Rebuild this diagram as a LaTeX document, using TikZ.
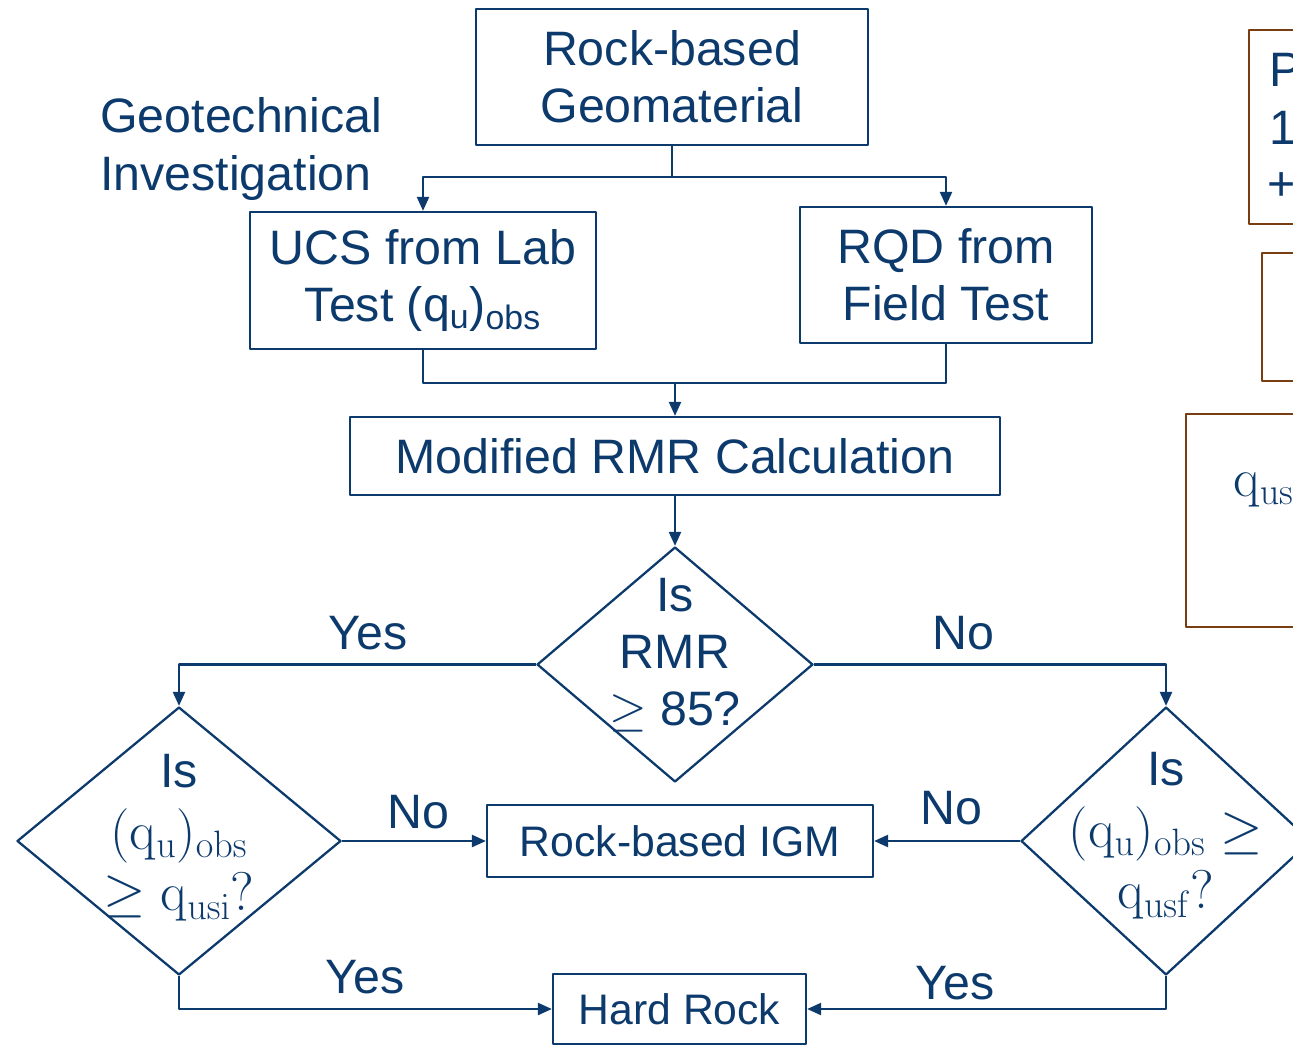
\RequirePackage{fix-cm}
\documentclass[tikz,border=0pt]{standalone}
\usepackage[no-math]{fontspec}
\setmainfont{Liberation Sans}
\usepackage{tikz}
\usetikzlibrary{arrows.meta,shapes.geometric}
\definecolor{navy}{RGB}{12,58,108}
\definecolor{rust}{RGB}{120,62,18}
\newcommand{\bigtxt}{\fontsize{27.5}{32.5}\selectfont}
\newcommand{\midtxt}{\fontsize{24.3}{29}\selectfont}
\newcommand{\mathtxt}{\fontsize{31}{35}\selectfont}
\tikzset{
  every picture/.style={line join=round, >={Triangle[length=0.28cm,width=0.24cm]}},
  box/.style={draw=navy, line width=1.3pt, text=navy, rectangle, inner sep=0pt, align=center, font=\bigtxt},
  decision/.style={draw=navy, line width=1.3pt, diamond, inner sep=0pt},
  dtext/.style={text=navy, align=center, font=\mathtxt},
  lbl/.style={text=navy, font=\bigtxt},
  link/.style={draw=navy, line width=1.3pt},
  side/.style={draw=rust, line width=1.3pt},
}

\begin{document}
\begin{tikzpicture}[x=0.02cm,y=-0.02cm]
\useasboundingbox (0,0) rectangle (1293,1045);
\clip (0,0) rectangle (1293,1045);
\node[box, minimum width=7.84cm, minimum height=2.72cm] (geo) at (672,77) {Rock-based\\Geomaterial};
\node[lbl, align=left, anchor=west, inner sep=0pt] (inv) at (100,149) {Geotechnical\\Investigation};
\node[box, minimum width=6.92cm, minimum height=2.74cm] (ucs) at (423,280.5) {UCS from Lab\\Test (q\textsubscript{u})\textsubscript{obs}};
\node[box, minimum width=5.84cm, minimum height=2.72cm] (rqd) at (946,275) {RQD from\\Field Test};
\node[box, minimum width=13cm, minimum height=1.56cm] (rmr) at (675,456) {Modified RMR Calculation};
\node[decision, minimum width=5.52cm, minimum height=4.7cm] (d1) at (675,664.5) {};
\node[dtext, font=\bigtxt] (q1) at (675,655) {Is\\RMR\\$\geq$ 85?};
\node[decision, minimum width=6.48cm, minimum height=5.36cm] (d2) at (179,841) {};
\node[dtext] (q2) at (179,838) {\bigtxt Is\\$(\mathrm{q}_\mathrm{u})_\mathrm{obs}$\\$\geq\mathrm{q}_\mathrm{usi}?$};
\node[decision, minimum width=5.8cm, minimum height=5.36cm] (d3) at (1166,841) {};
\node[dtext] (q3) at (1166,836) {\bigtxt Is\\$(\mathrm{q}_\mathrm{u})_\mathrm{obs}\geq$\\$\mathrm{q}_\mathrm{usf}?$};
\node[box, font=\midtxt, minimum width=7.72cm, minimum height=1.44cm] (igm) at (680,841) {Rock-based IGM};
\node[box, font=\midtxt, minimum width=5.06cm, minimum height=1.4cm] (hard) at (679.5,1009) {Hard Rock};

\coordinate (split) at (672,177);
\coordinate (merge) at (675,383);
\draw[link] (geo.south) -- (split);
\draw[link,->] (split) -| (ucs.north);
\draw[link,->] (split) -| (rqd.north);
\draw[link] (ucs.south) |- (merge);
\draw[link] (rqd.south) |- (merge);
\draw[link,->] (merge) -- (rmr.north);
\draw[link,->] (rmr.south) -- (d1.north);
\draw[link,->] (d1.west) -| (d2.north);
\draw[link,->] (d1.east) -| (d3.north);
\draw[link,->] (d2.east) -- (igm.west);
\draw[link,->] (d3.west) -- (igm.east);
\draw[link,->] (d2.south) |- (hard.west);
\draw[link,->] (d3.south) |- (hard.east);

\node[lbl] (yes1) at (368,633) {Yes};
\node[lbl] (no1) at (963,633) {No};
\node[lbl] (no2) at (418,812) {No};
\node[lbl] (no3) at (951,808) {No};
\node[lbl] (yes2) at (365,977) {Yes};
\node[lbl] (yes3) at (955,983) {Yes};

\draw[side] (1249,30) rectangle (1320,224);
\draw[side] (1262,253) rectangle (1320,381);
\draw[side] (1186,414) rectangle (1320,627);
\node[lbl, anchor=west, inner sep=0pt] (pa) at (1269,70) {P};
\node[lbl, anchor=west, inner sep=0pt] (pb) at (1269,128) {1};
\node[lbl, anchor=west, inner sep=0pt] (pc) at (1267,187) {+};
\node[dtext, anchor=west, inner sep=0pt] (qa) at (1233,490) {$\mathrm{q}_\mathrm{us}$};
\end{tikzpicture}
\end{document}
